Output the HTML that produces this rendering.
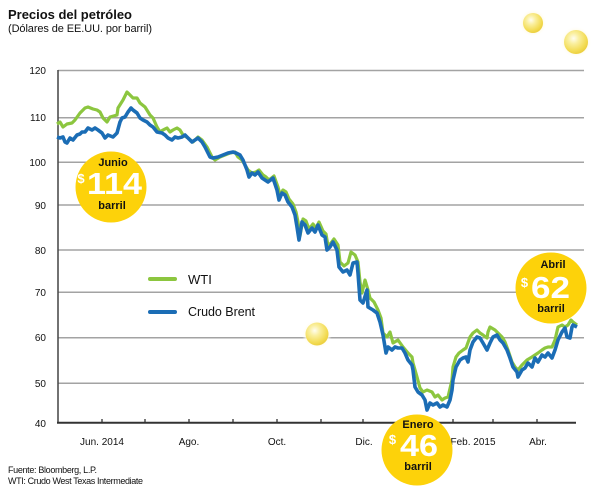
<!DOCTYPE html>
<html><head><meta charset="utf-8"><style>
html,body{margin:0;padding:0;background:#fff;}
svg{display:block;}
text{font-family:"Liberation Sans",Arial,sans-serif;}
</style></head><body>
<svg width="615" height="491" viewBox="0 0 615 491" xmlns="http://www.w3.org/2000/svg">
<defs>
<radialGradient id="ball" cx="0.4" cy="0.35" r="0.65">
<stop offset="0" stop-color="#fffdf0"/>
<stop offset="0.35" stop-color="#faef9e"/>
<stop offset="0.8" stop-color="#f3dc55"/>
<stop offset="1" stop-color="#ecd040"/>
</radialGradient>
<radialGradient id="halo" cx="0.5" cy="0.5" r="0.5">
<stop offset="0.7" stop-color="#fffbe8" stop-opacity="1"/>
<stop offset="1" stop-color="#ffffff" stop-opacity="0"/>
</radialGradient>
</defs>
<rect width="615" height="491" fill="#fff"/>
<text x="8" y="19" font-size="13" font-weight="bold" fill="#111" textLength="124">Precios del petróleo</text>
<text x="8" y="32" font-size="11" fill="#111" textLength="144">(Dólares de EE.UU. por barril)</text>

<!-- gridlines -->
<g stroke="#a3a3a3" stroke-width="1.5">
<line x1="58" y1="70.5" x2="584" y2="70.5"/>
<line x1="58" y1="117.7" x2="584" y2="117.7"/>
<line x1="58" y1="162.3" x2="584" y2="162.3"/>
<line x1="58" y1="205" x2="584" y2="205"/>
<line x1="58" y1="250" x2="584" y2="250"/>
<line x1="58" y1="292.3" x2="584" y2="292.3"/>
<line x1="58" y1="337.7" x2="584" y2="337.7"/>
<line x1="58" y1="383.3" x2="584" y2="383.3"/>
</g>
<line x1="58" y1="70" x2="58" y2="423" stroke="#444" stroke-width="1.5"/>
<line x1="57" y1="422.8" x2="576" y2="422.8" stroke="#333" stroke-width="2"/>
<g stroke="#333" stroke-width="1.3">
<line x1="102" y1="419" x2="102" y2="423"/>
<line x1="145" y1="419" x2="145" y2="423"/>
<line x1="189" y1="419" x2="189" y2="423"/>
<line x1="233" y1="419" x2="233" y2="423"/>
<line x1="277" y1="419" x2="277" y2="423"/>
<line x1="321" y1="419" x2="321" y2="423"/>
<line x1="363" y1="419" x2="363" y2="423"/>
<line x1="408" y1="419" x2="408" y2="423"/>
<line x1="453" y1="419" x2="453" y2="423"/>
<line x1="493" y1="419" x2="493" y2="423"/>
<line x1="537" y1="419" x2="537" y2="423"/>
</g>
<g font-size="10" fill="#111" text-anchor="end">
<text x="46" y="74">120</text>
<text x="46" y="121">110</text>
<text x="46" y="166">100</text>
<text x="46" y="209">90</text>
<text x="46" y="254">80</text>
<text x="46" y="296">70</text>
<text x="46" y="341">60</text>
<text x="46" y="387">50</text>
<text x="46" y="427">40</text>
</g>
<g font-size="10" fill="#111" text-anchor="middle">
<text x="102" y="445">Jun. 2014</text>
<text x="189" y="445">Ago.</text>
<text x="277" y="445">Oct.</text>
<text x="364" y="445">Dic.</text>
<text x="473" y="445">Feb. 2015</text>
<text x="538" y="445">Abr.</text>
</g>

<!-- legend -->
<line x1="150" y1="279" x2="175" y2="279" stroke="#8cc63f" stroke-width="4" stroke-linecap="round"/>
<line x1="150" y1="312" x2="175" y2="312" stroke="#1b6db5" stroke-width="4" stroke-linecap="round"/>
<text x="188" y="284" font-size="13" fill="#111">WTI</text>
<text x="188" y="316" font-size="12.5" fill="#111" textLength="67">Crudo Brent</text>

<!-- series -->
<polyline fill="none" stroke="#8cc63f" stroke-width="3.2" stroke-linejoin="round" points="57,124 60,122 63,127 67,124 72,123 75,120 80,113 85,108 88,107 93,109 97,110 100,112 103,118 107,122 110,117 117,115 118,108 123,100 127,92 130,95 133,98 137,98 140,103 145,107 150,115 153,118 157,127 160,132 163,130 167,128 170,132 173,130 177,128 180,130 183,135 188,138 193,142 198,137 202,140 207,147 212,157 215,160 220,157 225,155 230,153 235,152 238,157 242,160 245,165 248,170 252,173 256,172 259,170 263,175 266,177 269,180 274,176 278,187 280,195 283,190 286,192 289,199 293,204 296,212 298,222 300,236 303,219 306,221 309,229 313,224 316,228 319,222 323,231 326,234 328,246 331,243 334,239 338,245 340,262 344,266 348,263 351,252 355,255 358,262 360,282 362,293 365,280 368,290 370,298 374,302 378,310 381,318 383,333 387,337 390,332 393,343 398,340 403,347 408,353 412,357 413,363 417,377 420,388 423,392 427,390 432,392 435,397 438,395 442,400 445,398 448,397 452,380 453,367 456,357 459,353 463,350 466,348 470,337 473,333 477,330 480,333 483,335 487,338 488,332 490,327 495,330 498,333 502,337 505,342 508,350 512,362 515,367 518,370 522,365 527,360 532,357 535,355 538,353 542,350 545,348 548,347 552,347 555,340 558,327 562,325 565,327 568,325 571,320 573,322 577,325"/>
<polyline fill="none" stroke="#1b6db5" stroke-width="3.6" stroke-linejoin="round" points="57,137 60,138 63,137 65,142 67,143 70,138 73,140 77,135 80,134 82,132 85,132 88,128 92,130 95,128 98,130 102,133 105,138 108,135 113,137 117,133 120,122 122,118 125,117 128,112 131,108 133,110 137,113 140,118 143,120 147,122 150,125 153,127 157,132 162,133 165,135 168,138 172,140 175,137 178,138 182,137 185,135 188,138 192,142 195,140 198,138 202,142 205,147 210,157 213,158 218,157 223,155 228,153 233,152 236,153 240,155 243,160 247,170 249,177 252,173 255,175 258,172 262,178 265,180 268,182 273,178 277,190 279,200 282,193 285,195 288,202 292,207 295,215 297,227 299,240 302,222 305,225 308,233 312,228 315,232 318,225 322,235 325,237 327,250 330,247 333,242 337,250 339,267 343,272 347,270 350,275 353,263 357,262 358,273 360,300 363,303 367,290 368,307 373,310 377,313 380,322 383,335 386,353 388,347 392,350 395,347 398,348 402,348 405,353 408,360 412,365 413,370 415,387 418,392 422,395 425,400 427,410 430,403 433,405 437,403 440,407 443,405 447,407 450,400 452,390 453,380 456,367 460,360 463,358 466,357 468,362 470,350 473,342 477,337 480,338 483,343 487,350 490,343 493,337 497,335 500,340 503,343 507,350 510,358 513,367 517,372 518,377 522,370 525,368 528,363 532,367 535,358 538,362 542,355 545,357 548,353 552,358 555,350 558,340 562,332 565,328 567,337 570,338 572,327 573,325 577,327"/>

<!-- decorative balls -->
<circle cx="533" cy="23" r="14" fill="url(#halo)"/>
<circle cx="533" cy="23" r="10" fill="url(#ball)"/>
<circle cx="576" cy="42" r="16" fill="url(#halo)"/>
<circle cx="576" cy="42" r="12" fill="url(#ball)"/>
<circle cx="317" cy="334" r="15" fill="url(#halo)"/>
<circle cx="317" cy="334" r="11.5" fill="url(#ball)"/>

<!-- callouts -->
<g font-weight="bold" text-anchor="middle">
<circle cx="111" cy="187" r="35.5" fill="#fdd20a"/>
<text x="113" y="166" font-size="11" fill="#111">Junio</text>
<text x="81" y="183" font-size="13" fill="#fff">$</text>
<text x="114.5" y="194" font-size="31" fill="#fff" textLength="55" lengthAdjust="spacingAndGlyphs">114</text>
<text x="112" y="209" font-size="11" fill="#111">barril</text>

<circle cx="551" cy="288" r="35.5" fill="#fdd20a"/>
<text x="553" y="268" font-size="11" fill="#111">Abril</text>
<text x="524.5" y="287" font-size="13" fill="#fff">$</text>
<text x="550.5" y="298" font-size="31" fill="#fff" textLength="39" lengthAdjust="spacingAndGlyphs">62</text>
<text x="551" y="312" font-size="11" fill="#111">barril</text>

<circle cx="417" cy="450" r="35.5" fill="#fdd20a"/>
<text x="418" y="428" font-size="11" fill="#111">Enero</text>
<text x="392.5" y="444" font-size="13" fill="#fff">$</text>
<text x="419" y="456" font-size="31" fill="#fff" textLength="38" lengthAdjust="spacingAndGlyphs">46</text>
<text x="418" y="470" font-size="11" fill="#111">barril</text>
</g>

<text x="8" y="473" font-size="9" fill="#111" textLength="89">Fuente: Bloomberg, L.P.</text>
<text x="8" y="484" font-size="9" fill="#111" textLength="135">WTI: Crudo West Texas Intermediate</text>
</svg>
</body></html>
